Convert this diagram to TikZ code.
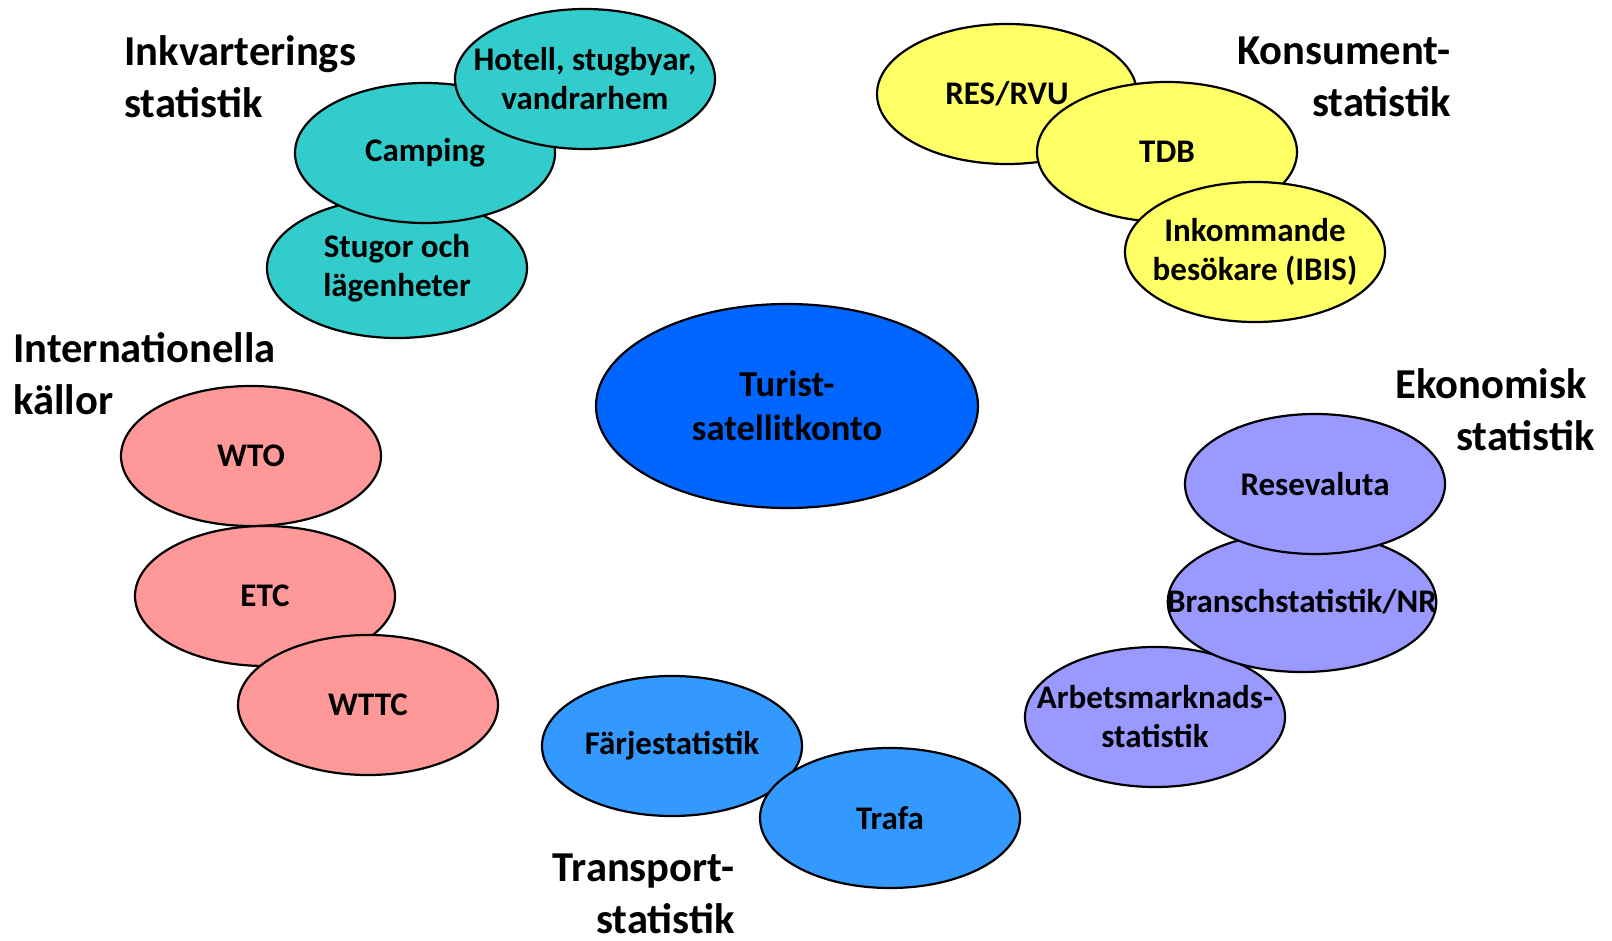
\documentclass[tikz,border=0pt]{standalone}
\usepackage{fontspec}
\setmainfont{Carlito}
\usepackage{xcolor}
\usepackage{tikz}
\usetikzlibrary{positioning,shapes}

\definecolor{tealfill}{HTML}{33CCCC}
\definecolor{yellowfill}{HTML}{FFFF66}
\definecolor{centerfill}{HTML}{0066FF}
\definecolor{purplefill}{HTML}{9999FF}
\definecolor{pinkfill}{HTML}{FF9999}
\definecolor{transfill}{HTML}{3399FF}

\begin{document}
\begin{tikzpicture}[
		x=0.5pt, y=-0.5pt,
		source/.style={ellipse, draw=black, line width=1.1pt, minimum width=130pt, minimum height=70pt,
			inner xsep=-20pt, inner ysep=0pt, align=center,
			font=\fontsize{16.5}{19.5}\selectfont\bfseries},
		center/.style={ellipse, draw=black, line width=1.1pt, fill=centerfill, minimum width=191pt, minimum height=102pt,
			inner xsep=-20pt, inner ysep=0pt, align=center,
			font=\fontsize{18.3}{22}\selectfont\bfseries},
		group/.style={inner sep=0pt, font=\fontsize{21.3}{26}\selectfont\bfseries},
		]
		\useasboundingbox (0,0) rectangle (1612,941);

		%Main Node
		\node[center]	(tsa)	at (787,406)	{Turist-\\satellitkonto};

		%Inkvarterings
		\node[source, fill=tealfill]	(ink_3)	at (397,268)	{Stugor och\\lägenheter};
		\node[source, fill=tealfill]	(ink_2)	at (425,153)	{Camping};
		\node[source, fill=tealfill]	(ink_1)	at (585,79)		{Hotell, stugbyar,\\vandrarhem};
		\node[group, anchor=base west, align=left]	(ink)	at (124,118)	{Inkvarterings\\statistik};

		%Konsument
		\node[source, fill=yellowfill]	(kon_1)	at (1007,94)	{RES/RVU};
		\node[source, fill=yellowfill]	(kon_2)	at (1167,152)	{TDB};
		\node[source, fill=yellowfill]	(kon_3)	at (1255,252)	{Inkommande\\besökare (IBIS)};
		\node[group, anchor=base east, align=right]	(kon)	at (1451,117)	{Konsument-\\statistik};

		%Ekonomisk
		\node[source, fill=purplefill]	(eko_3)	at (1155,717)	{Arbetsmarknads-\\statistik};
		\node[source, fill=purplefill]	(eko_2)	at (1302,602)	{Branschstatistik/NR};
		\node[source, fill=purplefill]	(eko_1)	at (1315,484)	{Resevaluta};
		\node[group, anchor=base east, align=right]	(eko)	at (1595,450)	{Ekonomisk\hspace*{4pt}\\statistik};

		%Internationella
		\node[source, fill=pinkfill]	(int_1)	at (251,456)	{WTO};
		\node[source, fill=pinkfill]	(int_2)	at (265,596)	{ETC};
		\node[source, fill=pinkfill]	(int_3)	at (368,705)	{WTTC};
		\node[group, anchor=base west, align=left]	(int)	at (13,415)	{Internationella\\källor};

		%Transport
		\node[source, fill=transfill]	(tra_1)	at (672,746)	{Färjestatistik};
		\node[source, fill=transfill]	(tra_2)	at (890,818)	{Trafa};
		\node[group, anchor=base east, align=right]	(tra)	at (735,933)	{Transport-\\statistik};

	\end{tikzpicture}
\end{document}
